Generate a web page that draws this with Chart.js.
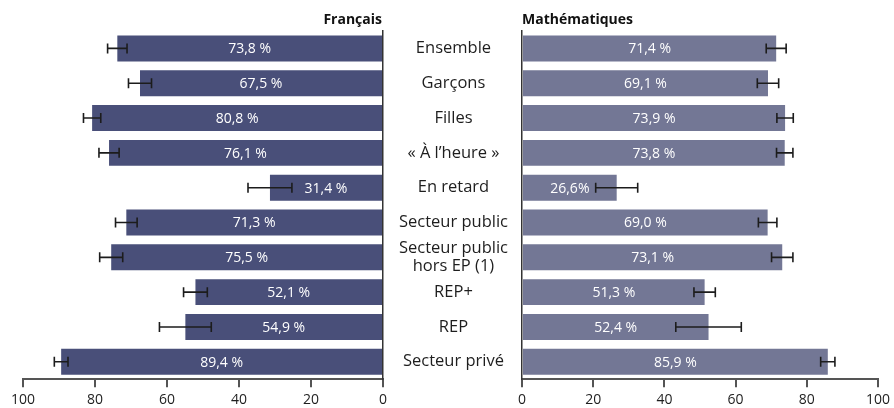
<!DOCTYPE html>
<html>
<head>
<meta charset="utf-8">
<script src="https://cdn.jsdelivr.net/npm/chart.js@4.4.1/dist/chart.umd.min.js"></script>
<style>
  html, body { margin: 0; padding: 0; background: #fff; }
  #wrap { position: relative; width: 894px; height: 408px; overflow: hidden; }
  #left { position: absolute; left: 0; top: 0; }
  #right { position: absolute; left: 383px; top: 0; }
</style>
</head>
<body>
<div id="wrap">
  <canvas id="left" width="400" height="408"></canvas>
  <canvas id="right" width="511" height="408"></canvas>
</div>
<script>
// data
const categories = ['Ensemble', 'Garçons', 'Filles', '« À l’heure »', 'En retard', 'Secteur public',
    ['Secteur public', 'hors EP (1)'], 'REP+', 'REP', 'Secteur privé'];
const francais = [73.8, 67.5, 80.8, 76.1, 31.4, 71.3, 75.5, 52.1, 54.9, 89.4];
const francaisErr = [2.7, 3.2, 2.4, 2.8, 6.1, 3.0, 3.2, 3.3, 7.2, 1.9];
const francaisLabels = ['73,8 %', '67,5 %', '80,8 %', '76,1 %', '31,4 %', '71,3 %', '75,5 %', '52,1 %', '54,9 %', '89,4 %'];
const maths = [71.4, 69.1, 73.9, 73.8, 26.6, 69.0, 73.1, 51.3, 52.4, 85.9];
const mathsErr = [2.8, 3.0, 2.3, 2.3, 5.9, 2.6, 3.0, 3.0, 9.2, 2.0];
const mathsLabels = ['71,4 %', '69,1 %', '73,9 %', '73,8 %', '26,6%', '69,0 %', '73,1 %', '51,3 %', '52,4 %', '85,9 %'];
const ticks = [0, 20, 40, 60, 80, 100];

const FONT = "'Open Sans', sans-serif";

// value inside each bar, error whiskers, and the panel heading
const barExtras = {
    id: 'barExtras',
    afterDatasetsDraw(chart, args, opts) {
        const ctx = chart.ctx;
        const xs = chart.scales.x;
        const meta = chart.getDatasetMeta(0);
        const values = chart.data.datasets[0].data;
        ctx.save();
        meta.data.forEach((bar, i) => {
            ctx.fillStyle = '#ffffff';
            ctx.font = '14px ' + FONT;
            ctx.textAlign = 'center';
            ctx.textBaseline = 'middle';
            ctx.fillText(opts.labels[i], (bar.x + bar.base) / 2, bar.y + 1);

            const lo = xs.getPixelForValue(values[i] - opts.errors[i]);
            const hi = xs.getPixelForValue(values[i] + opts.errors[i]);
            ctx.strokeStyle = '#1c1c1c';
            ctx.lineWidth = 1.6;
            ctx.beginPath();
            ctx.moveTo(lo, bar.y); ctx.lineTo(hi, bar.y);
            ctx.moveTo(lo, bar.y - 5); ctx.lineTo(lo, bar.y + 5);
            ctx.moveTo(hi, bar.y - 5); ctx.lineTo(hi, bar.y + 5);
            ctx.stroke();
        });

        // heading over the panel
        const area = chart.chartArea;
        ctx.fillStyle = '#111';
        ctx.font = 'bold 14px ' + FONT;
        ctx.textBaseline = 'middle';
        ctx.textAlign = opts.align;
        ctx.fillText(opts.heading, opts.align === 'right' ? area.right - 1 : area.left, 20);
        ctx.restore();
    }
};

function xAxis(reverse) {
    return {
        min: 0,
        max: 100,
        reverse: reverse,
        afterBuildTicks: (axis) => { axis.ticks = ticks.map(v => ({ value: v })); },
        grid: { drawOnChartArea: false, drawTicks: true, tickLength: 8, color: '#555', lineWidth: 2 },
        border: { display: true, color: '#555', width: 2 },
        ticks: { padding: 4, color: '#1e1e1e', font: { family: FONT, size: 14 }, maxRotation: 0 }
    };
}

new Chart(document.getElementById('left'), {
    type: 'bar',
    data: {
        labels: categories,
        datasets: [{ data: francais, backgroundColor: '#494f79', barPercentage: 0.745, categoryPercentage: 1 }]
    },
    options: {
        responsive: false,
        animation: false,
        indexAxis: 'y',
        layout: { padding: { left: 23, right: 17, top: 31, bottom: -4 } },
        plugins: {
            legend: { display: false },
            tooltip: { enabled: false },
            barExtras: { labels: francaisLabels, errors: francaisErr, heading: 'Français', align: 'right' }
        },
        scales: {
            x: xAxis(true),
            y: {
                position: 'right',
                grid: { display: false, drawTicks: false },
                ticks: { display: false },
                border: { display: true, color: '#333', width: 1.5 },
                afterFit: (axis) => { axis.width = 0; }
            }
        }
    },
    plugins: [barExtras]
});

new Chart(document.getElementById('right'), {
    type: 'bar',
    data: {
        labels: categories,
        datasets: [{ data: maths, backgroundColor: '#737795', barPercentage: 0.745, categoryPercentage: 1 }]
    },
    options: {
        responsive: false,
        animation: false,
        indexAxis: 'y',
        layout: { padding: { left: 0, right: 12, top: 31, bottom: -4 } },
        plugins: {
            legend: { display: false },
            tooltip: { enabled: false },
            barExtras: { labels: mathsLabels, errors: mathsErr, heading: 'Mathématiques', align: 'left' }
        },
        scales: {
            x: xAxis(false),
            y: {
                position: 'left',
                grid: { display: false, drawTicks: false },
                border: { display: true, color: '#333', width: 1.5 },
                ticks: {
                    autoSkip: false, crossAlign: 'center', padding: 14, color: '#1e1e1e',
                    font: { family: FONT, size: 16.5, lineHeight: 1.05 }
                },
                afterFit: (axis) => { axis.width = 139; }
            }
        }
    },
    plugins: [barExtras]
});
</script>
</body>
</html>
